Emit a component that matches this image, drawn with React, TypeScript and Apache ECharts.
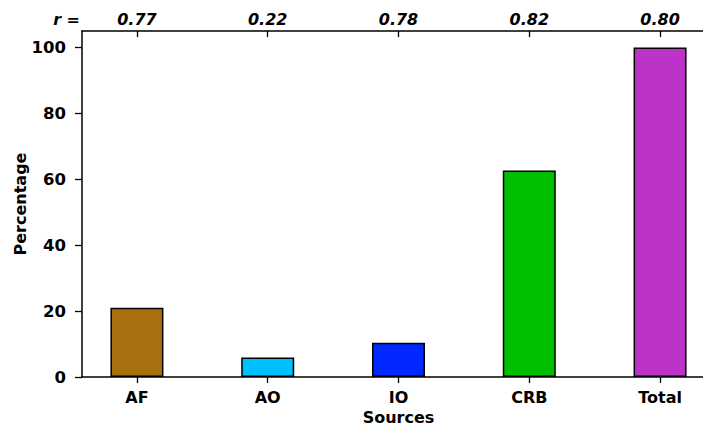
import React, { useEffect, useRef } from "react";
import * as echarts from "echarts";

const categories = ["AF", "AO", "IO", "CRB", "Total"];
const values = [21.0, 5.9, 10.4, 62.7, 100];
const rValues = ["0.77", "0.22", "0.78", "0.82", "0.80"];
const colors = ["#A8700F", "#00BFFF", "#0028FF", "#00BF00", "#BD32C8"];
const yTicks = [0, 20, 40, 60, 80, 100];

const FONT = "DejaVu Sans";

export default function App() {
  const ref = useRef<HTMLDivElement>(null);
  useEffect(() => {
    document.body.style.margin = "0";
    const chart = echarts.init(ref.current!, null, { renderer: "svg" });
    const positions = categories.map((_, i) => i);
    const axisCommon = {
      type: "value" as const,
      min: -0.42,
      max: 4.42,
      splitLine: { show: false },
      axisLine: { show: true, onZero: false, lineStyle: { color: "#000", width: 1.5 } },
    };
    chart.setOption({
      animation: false,
      backgroundColor: "#fff",
      textStyle: { fontFamily: FONT },
      grid: { left: 82, top: 31, bottom: 49, right: -12, containLabel: false, outerBoundsMode: "none" },
      xAxis: [
        {
          ...axisCommon,
          position: "bottom",
          name: "Sources",
          nameLocation: "middle",
          nameGap: 32,
          nameMoveOverlap: false,
          nameTextStyle: { color: "#000", fontWeight: "bold", fontSize: 16, fontFamily: FONT },
          axisTick: { show: true, customValues: positions, length: 6, lineStyle: { color: "#000", width: 1.3 } },
          axisLabel: {
            customValues: positions,
            color: "#000",
            fontWeight: "bold",
            fontSize: 16,
            margin: 12,
            fontFamily: FONT,
            formatter: (v: number) => categories[Math.round(v)] ?? "",
          },
        },
        {
          ...axisCommon,
          position: "top",
          axisTick: { show: true, inside: true, customValues: positions, length: 6, lineStyle: { color: "#000", width: 1.3 } },
          axisLabel: {
            customValues: positions,
            color: "#000",
            fontWeight: "bold",
            fontStyle: "italic",
            fontSize: 16,
            margin: 4,
            fontFamily: FONT,
            formatter: (v: number) => rValues[Math.round(v)] ?? "",
          },
        },
      ],
      yAxis: {
        type: "value",
        min: 0,
        max: 105,
        splitLine: { show: false },
        name: "Percentage",
        nameLocation: "middle",
        nameGap: 54,
        nameRotate: 90,
        nameMoveOverlap: false,
        nameTextStyle: { color: "#000", fontWeight: "bold", fontSize: 16, fontFamily: FONT },
        axisLine: { show: true, onZero: false, lineStyle: { color: "#000", width: 1.5 } },
        axisTick: { show: true, customValues: yTicks, length: 7, lineStyle: { color: "#000", width: 1.3 } },
        axisLabel: {
          customValues: yTicks,
          color: "#000",
          fontWeight: "bold",
          fontSize: 16.5,
          margin: 16,
          fontFamily: FONT,
        },
      },
      graphic: [
        {
          type: "text",
          right: 703 - 80,
          top: 11,
          style: {
            text: "r =",
            fill: "#000",
            font: `italic bold 16px '${FONT}'`,
          },
        },
      ],
      series: [
        {
          type: "bar",
          xAxisIndex: 0,
          barWidth: 53,
          data: values.map((v, i) => ({
            value: [i, v],
            itemStyle: { color: colors[i], borderColor: "#000", borderWidth: 1.5 },
          })),
        },
      ],
    });
    return () => chart.dispose();
  }, []);
  return <div ref={ref} style={{ width: 703, height: 426 }} />;
}
